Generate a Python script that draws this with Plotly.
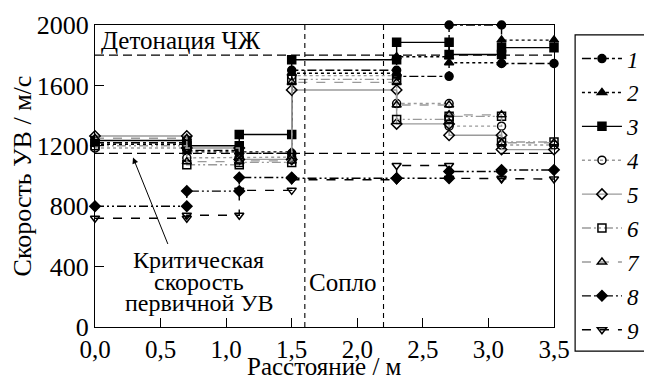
import plotly.graph_objects as go

# Gauge positions (m) and shock-wave velocity per segment between gauges (m/s)
gauges = [0.0, 0.7, 1.1, 1.5, 2.3, 2.7, 3.1, 3.5]
series_names = ["1", "2", "3", "4", "5", "6", "7", "8", "9"]
v1 = [1220, 1170, 1150, 1700, 1660, 2000, 1745]
v2 = [1210, 1160, 1160, 1680, 1790, 1750, 1900]
v3 = [1235, 1200, 1275, 1770, 1885, 1805, 1850]
v4 = [1185, 1120, 1125, 1665, 1480, 1330, 1205]
v5 = [1265, 1185, 1110, 1570, 1345, 1270, 1175]
v6 = [1200, 1075, 1090, 1640, 1375, 1395, 1225]
v7 = [1250, 1095, 1100, 1620, 1470, 1405, 1220]
v8 = [800, 900, 990, 985, 985, 1030, 1040]
v9 = [720, 740, 905, 975, 1070, 985, 980]
values = [v1, v2, v3, v4, v5, v6, v7, v8, v9]

detonation_speed = 1800
critical_speed = 1150
nozzle_start = 1.6
nozzle_end = 2.2

x_ticks = [0.0, 0.5, 1.0, 1.5, 2.0, 2.5, 3.0, 3.5]
y_ticks = [0, 400, 800, 1200, 1600, 2000]

FONT = "Liberation Serif, Times New Roman, serif"
GRAY = "#9a9a9a"
DASHDOTDOT = "9px,3px,2px,3px,2px,3px"
styles = [
    dict(lc="black", dash="dashdot", sym="circle", mc="black"),
    dict(lc="black", dash="dot", sym="triangle-up", mc="black"),
    dict(lc="black", dash="solid", sym="square", mc="black"),
    dict(lc=GRAY, dash="dot", sym="circle-open", mc="black"),
    dict(lc=GRAY, dash="solid", sym="diamond-open", mc="black"),
    dict(lc=GRAY, dash=DASHDOTDOT, sym="square-open", mc="black"),
    dict(lc=GRAY, dash="dash", sym="triangle-up-open", mc="black"),
    dict(lc="black", dash=DASHDOTDOT, sym="diamond", mc="black"),
    dict(lc="black", dash="dash", sym="triangle-down-open", mc="black"),
]


def step_xy(vals):
    xs, ys = [], []
    for i, v in enumerate(vals):
        xs += [gauges[i], gauges[i + 1]]
        ys += [v, v]
    return xs, ys


fig = go.Figure()
for name, vals, st in zip(series_names, values, styles):
    xs, ys = step_xy(vals)
    fig.add_trace(go.Scatter(
        x=xs, y=ys, mode="lines+markers", name="<i>" + name + "</i>",
        legendgroup=name,
        line=dict(color=st["lc"], width=1.4, dash=st["dash"]),
        marker=dict(symbol=st["sym"], color=st["mc"], size=8,
                    line=dict(color="black", width=1.5)),
        cliponaxis=False,
    ))

line_dash = dict(color="black", width=1.2, dash="9px,5px")
fig.add_shape(type="line", xref="x", yref="y", x0=0, x1=3.5,
              y0=detonation_speed, y1=detonation_speed, line=line_dash)
fig.add_shape(type="line", xref="x", yref="y", x0=0, x1=3.5,
              y0=critical_speed, y1=critical_speed, line=line_dash)
for xv in (nozzle_start, nozzle_end):
    fig.add_shape(type="line", xref="x", yref="y", x0=xv, x1=xv,
                  y0=0, y1=2000, line=dict(color="black", width=1.1, dash="5px,4px"))
# legend frame
fig.add_shape(type="rect", xref="paper", yref="paper", x0=1.046, x1=1.218,
              y0=-0.08, y1=0.967, line=dict(color="black", width=1.2),
              fillcolor="rgba(0,0,0,0)")

ann_font = dict(family=FONT, size=25, color="black")
fig.add_annotation(x=0.03, y=1895, xref="x", yref="y", text="Детонация ЧЖ",
                   showarrow=False, xanchor="left", yanchor="middle", font=ann_font)
fig.add_annotation(x=1.89, y=298, xref="x", yref="y", text="Сопло",
                   showarrow=False, xanchor="center", yanchor="middle", font=ann_font)
crit_lines = ["Критическая", "скорость", "первичной УВ"]
crit_y = [444, 298, 160]
for txt, yv in zip(crit_lines, crit_y):
    fig.add_annotation(x=0.79, y=yv, xref="x", yref="y", text=txt,
                       showarrow=False, xanchor="center", yanchor="middle",
                       font=dict(family=FONT, size=24, color="black"))
fig.add_annotation(x=0.29, y=1122, xref="x", yref="y", ax=0.56, ay=540,
                   axref="x", ayref="y", text="", showarrow=True,
                   arrowhead=2, arrowsize=1.2, arrowwidth=1, arrowcolor="black")
# x-axis title placed at the bottom edge
fig.add_annotation(x=0.5, y=0, xref="paper", yref="paper", yshift=-55,
                   text="Расстояние / м", showarrow=False,
                   xanchor="center", yanchor="bottom",
                   font=dict(family=FONT, size=25, color="black"))

# the page body adds an 8px offset, so the figure is sized to fit the window
fig.update_layout(
    width=644, height=371,
    margin=dict(l=87, r=98, t=17, b=52, autoexpand=False),
    paper_bgcolor="white", plot_bgcolor="white",
    separators=", ",
    font=dict(family=FONT, size=25, color="black"),
    showlegend=True,
    legend=dict(x=1.05, y=0.96, xanchor="left", yanchor="top",
                borderwidth=0, bgcolor="rgba(0,0,0,0)",
                font=dict(family=FONT, size=23), itemwidth=40,
                tracegroupgap=1, traceorder="grouped", maxheight=360),
)
fig.update_xaxes(range=[0, 3.5], tickvals=x_ticks, tickformat=".1f",
                 ticks="inside", ticklen=9, tickcolor="black",
                 showline=True, linecolor="black", linewidth=1.2, mirror=True,
                 showgrid=False, zeroline=False,
                 tickfont=dict(family=FONT, size=25))
fig.update_yaxes(range=[0, 2000], tickvals=y_ticks, tickformat="d",
                 ticks="inside", ticklen=9, tickcolor="black",
                 showline=True, linecolor="black", linewidth=1.2, mirror=True,
                 showgrid=False, zeroline=False,
                 title=dict(text="Скорость УВ / м/с", standoff=7,
                            font=dict(family=FONT, size=26)),
                 tickfont=dict(family=FONT, size=26))

fig.write_html("out.html")
